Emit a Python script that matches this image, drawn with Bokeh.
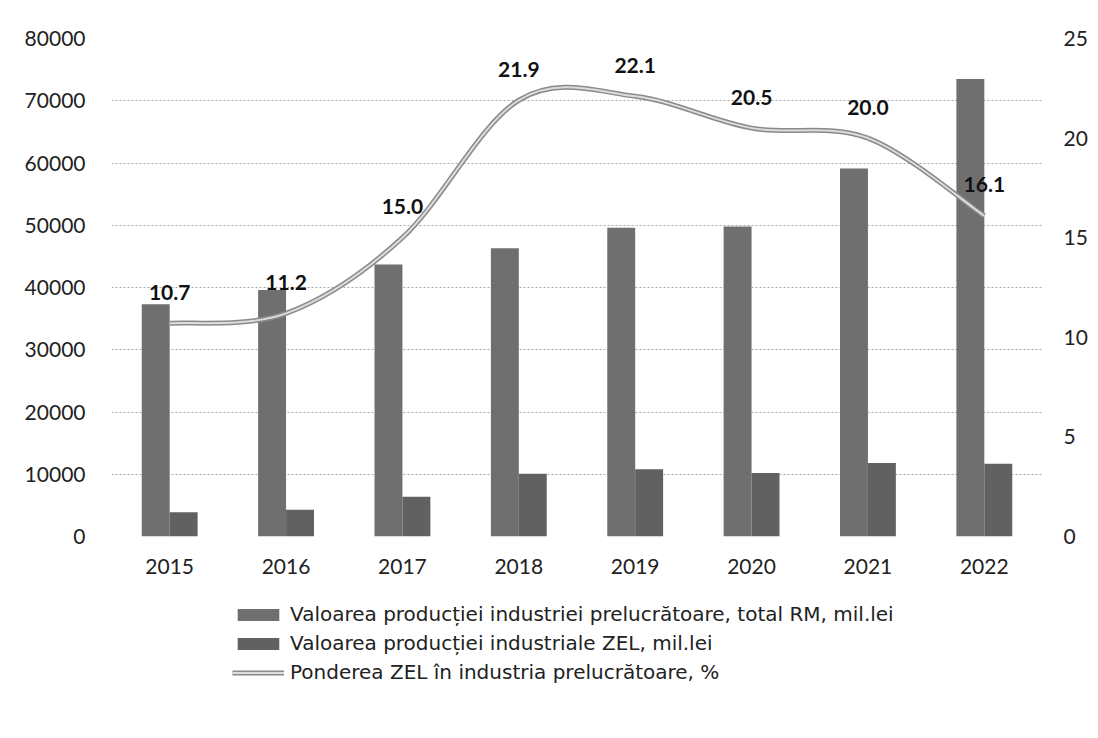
from bokeh.plotting import figure
from bokeh.layouts import column
from bokeh.models import (Range1d, LinearAxis, FixedTicker, ColumnDataSource,
                          Legend, LegendItem)
from bokeh.core.properties import value
from bokeh.embed import file_html
from bokeh.resources import INLINE

years = ["2015", "2016", "2017", "2018", "2019", "2020", "2021", "2022"]
total_rm = [37300, 39600, 43700, 46300, 49600, 49800, 59100, 73500]
zel = [3900, 4300, 6400, 10100, 10800, 10200, 11800, 11700]
share = [10.7, 11.2, 15.0, 21.9, 22.1, 20.5, 20.0, 16.1]

left_ticks = [0, 10000, 20000, 30000, 40000, 50000, 60000, 70000, 80000]
right_ticks = [0, 5, 10, 15, 20, 25]

lbl_total = "Valoarea producției industriei prelucrătoare, total RM, mil.lei"
lbl_zel = "Valoarea producției industriale ZEL, mil.lei"
lbl_share = "Ponderea ZEL în industria prelucrătoare, %"

FONT = "Lato"
LEG_FONT = "DejaVu Sans"
C_TOTAL = "#6f6f6f"
C_ZEL = "#616161"
C_LINE_OUT = "#8a8a8a"
C_LINE_IN = "#dcdcdc"
n = len(years)
xs = list(range(n))

p = figure(width=1090, height=586, output_backend="svg", toolbar_location=None,
           x_range=Range1d(-0.5, n - 0.5), y_range=Range1d(0, 80000),
           min_border_left=111, min_border_right=42, min_border_top=38,
           min_border_bottom=50)
p.extra_y_ranges = {"pct": Range1d(0, 25)}
p.outline_line_color = None

# bars
src = ColumnDataSource(dict(
    xt=[i - 0.12 for i in xs], xz=[i + 0.12 for i in xs],
    total=total_rm, zel=zel))
p.vbar(x="xt", top="total", width=0.24, source=src,
       fill_color=C_TOTAL, line_color=None)
p.vbar(x="xz", top="zel", width=0.24, source=src,
       fill_color=C_ZEL, line_color=None)

# smoothed line (Excel-style Catmull-Rom bezier from the data points)
x0, y0, x1, y1, cx0, cy0, cx1, cy1 = [], [], [], [], [], [], [], []
for i in range(n - 1):
    pm = share[i - 1] if i > 0 else share[i]
    pn2 = share[i + 2] if i + 2 < n else share[i + 1]
    xm = xs[i - 1] if i > 0 else xs[i]
    xn2 = xs[i + 2] if i + 2 < n else xs[i + 1]
    x0.append(xs[i]); y0.append(share[i])
    x1.append(xs[i + 1]); y1.append(share[i + 1])
    cx0.append(xs[i] + (xs[i + 1] - xm) / 6.0)
    cy0.append(share[i] + (share[i + 1] - pm) / 6.0)
    cx1.append(xs[i + 1] - (xn2 - xs[i]) / 6.0)
    cy1.append(share[i + 1] - (pn2 - share[i]) / 6.0)
bsrc = ColumnDataSource(dict(x0=x0, y0=y0, x1=x1, y1=y1,
                             cx0=cx0, cy0=cy0, cx1=cx1, cy1=cy1))
p.bezier(x0="x0", y0="y0", x1="x1", y1="y1", cx0="cx0", cy0="cy0",
         cx1="cx1", cy1="cy1", source=bsrc, y_range_name="pct",
         line_color=C_LINE_OUT, line_width=5)
p.bezier(x0="x0", y0="y0", x1="x1", y1="y1", cx0="cx0", cy0="cy0",
         cx1="cx1", cy1="cy1", source=bsrc, y_range_name="pct",
         line_color=C_LINE_IN, line_width=2)

# data labels
lsrc = ColumnDataSource(dict(x=xs, y=share, t=["%.1f" % v for v in share]))
p.text(x="x", y="y", text="t", source=lsrc, y_range_name="pct",
       text_align="center", text_baseline="middle", y_offset=-31,
       text_font=value(FONT), text_font_style="bold",
       text_font_size="21px", text_color="#111111")

# axes
p.xaxis.ticker = FixedTicker(ticks=xs)
p.xaxis.major_label_overrides = {i: y for i, y in enumerate(years)}
p.yaxis.ticker = FixedTicker(ticks=left_ticks)
for ax in [p.xaxis[0], p.yaxis[0]]:
    ax.axis_line_color = None
    ax.major_tick_line_color = None
    ax.minor_tick_line_color = None
    ax.major_label_text_font = FONT
    ax.major_label_text_font_size = "21px"
    ax.major_label_text_color = "#222222"
p.xaxis.major_label_standoff = 16
p.yaxis.major_label_standoff = 20

rax = LinearAxis(y_range_name="pct", ticker=FixedTicker(ticks=right_ticks))
rax.axis_line_color = None
rax.major_tick_line_color = None
rax.minor_tick_line_color = None
rax.major_label_text_font = FONT
rax.major_label_text_font_size = "21px"
rax.major_label_text_color = "#222222"
rax.major_label_standoff = 15
p.add_layout(rax, "right")

p.xgrid.grid_line_color = None
p.ygrid.grid_line_color = "#a8a8a8"
p.ygrid.grid_line_dash = "2 2"
p.ygrid.grid_line_width = 1
p.ygrid.ticker = FixedTicker(ticks=left_ticks)

# legend figure below the chart
lf = figure(width=1090, height=144, output_backend="svg", toolbar_location=None,
            x_range=Range1d(0, 1), y_range=Range1d(0, 1),
            min_border_left=0, min_border_right=0, min_border_top=0,
            min_border_bottom=0)
lf.axis.visible = False
lf.grid.visible = False
lf.outline_line_color = None
proxy = ColumnDataSource(dict(x=[-10, -9], y=[-10, -10]))
g_total = lf.vbar(x="x", top="y", width=0.1, source=proxy,
                  fill_color=C_TOTAL, line_color=None)
g_zel = lf.vbar(x="x", top="y", width=0.1, source=proxy,
                fill_color=C_ZEL, line_color=None)
g_out = lf.line(x="x", y="y", source=proxy, line_color=C_LINE_OUT, line_width=5)
g_in = lf.line(x="x", y="y", source=proxy, line_color=C_LINE_IN, line_width=2)

legend = Legend(items=[
    LegendItem(label=lbl_total, renderers=[g_total]),
    LegendItem(label=lbl_zel, renderers=[g_zel]),
    LegendItem(label=lbl_share, renderers=[g_out, g_in]),
], orientation="vertical", location=(121, 46))
legend.glyph_width = 52
legend.glyph_height = 15
legend.label_text_font = LEG_FONT
legend.label_text_font_size = "20px"
legend.label_text_color = "#222222"
legend.label_standoff = 6
legend.spacing = 5
legend.padding = 8
legend.margin = 0
legend.border_line_color = None
legend.background_fill_alpha = 0
lf.add_layout(legend, "center")

open("out.html", "w").write(file_html(column(p, lf, spacing=0), INLINE))
